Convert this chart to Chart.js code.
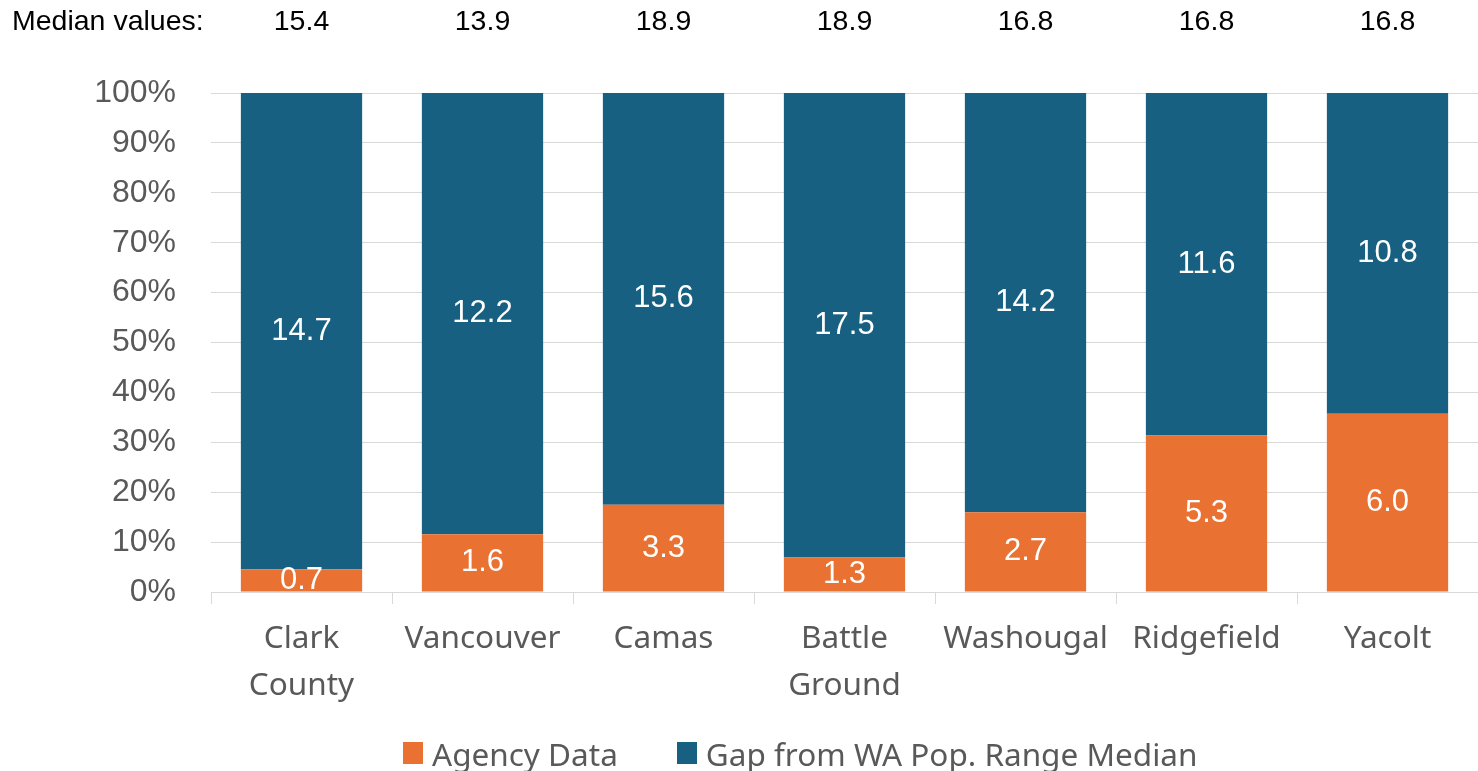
<!DOCTYPE html>
<html>
<head>
<meta charset="utf-8">
<script src="https://cdn.jsdelivr.net/npm/chart.js@4"></script>
<style>
  html, body { margin: 0; padding: 0; background: #fff; }
  #wrap { width: 1478px; height: 771px; position: relative; }
  #legend {
    position: absolute; left: 403px; top: 731px; height: 44px;
    display: flex; align-items: center;
    font: 31.5px "Noto Sans", sans-serif; color: #595959; white-space: nowrap;
  }
  #legend .item { display: flex; align-items: center; margin-right: 59px; }
  #legend .box  { width: 20px; height: 22px; margin-right: 9px; }
</style>
</head>
<body>
<div id="wrap">
  <canvas id="chart"></canvas>
  <div id="legend"></div>
</div>
<script>
// ── DATA ─────────────────────────────────────────────
var categories  = [['Clark', 'County'], 'Vancouver', 'Camas', ['Battle', 'Ground'], 'Washougal', 'Ridgefield', 'Yacolt'];
var agencyData  = [0.7, 1.6, 3.3, 1.3, 2.7, 5.3, 6.0];
var gapData     = [14.7, 12.2, 15.6, 17.5, 14.2, 11.6, 10.8];
var medianVals  = ['15.4', '13.9', '18.9', '18.9', '16.8', '16.8', '16.8'];
var seriesNames = ['Agency Data', 'Gap from WA Pop. Range Median'];

var ORANGE = '#E97132';
var BLUE   = '#186082';
var GRAY   = '#595959';
var FONT   = '"Noto Sans", sans-serif';
var ARIAL  = '"Liberation Sans", Arial, sans-serif';

// share of each bar (100% stacked)
function toPct(part, other) {
  return part.map(function (v, i) { return v / (v + other[i]) * 100; });
}

// ── LABELS INSIDE BARS + MEDIAN ROW ──────────────────
var labelsPlugin = {
  id: 'labelsPlugin',
  afterDatasetsDraw: function (chart) {
    var ctx  = chart.ctx;
    var area = chart.chartArea;
    ctx.save();
    ctx.beginPath();
    ctx.rect(area.left, area.top, area.right - area.left, area.bottom - area.top);
    ctx.clip();
    ctx.fillStyle    = '#fff';
    ctx.font         = '31px ' + ARIAL;
    ctx.textAlign    = 'center';
    ctx.textBaseline = 'middle';
    chart.data.datasets.forEach(function (ds, di) {
      chart.getDatasetMeta(di).data.forEach(function (bar, i) {
        var mid = (bar.y + bar.base) / 2;
        ctx.fillText(ds.raw[i].toFixed(1), bar.x, mid);
      });
    });
    ctx.restore();

    // median values row
    var x = chart.scales.x;
    ctx.save();
    ctx.fillStyle    = '#000';
    ctx.font         = '28.5px ' + ARIAL;
    ctx.textBaseline = 'middle';
    ctx.textAlign    = 'left';
    ctx.fillText('Median values:', 12, 22);
    ctx.textAlign = 'center';
    medianVals.forEach(function (v, i) {
      ctx.fillText(v, x.getPixelForValue(i), 22);
    });
    ctx.restore();
  }
};

// ── HTML LEGEND ──────────────────────────────────────
var htmlLegend = {
  id: 'htmlLegend',
  afterUpdate: function (chart) {
    var box = document.getElementById('legend');
    box.innerHTML = chart.data.datasets.map(function (ds) {
      return '<div class="item"><span class="box" style="background:' + ds.backgroundColor + '"></span>' +
             '<span>' + ds.label + '</span></div>';
    }).join('');
  }
};

new Chart(document.getElementById('chart'), {
  type: 'bar',
  data: {
    labels: categories,
    datasets: [
      {
        label: seriesNames[0],
        data: toPct(agencyData, gapData),
        raw: agencyData,
        backgroundColor: ORANGE,
        categoryPercentage: 1,
        barPercentage: 0.67
      },
      {
        label: seriesNames[1],
        data: toPct(gapData, agencyData),
        raw: gapData,
        backgroundColor: BLUE,
        categoryPercentage: 1,
        barPercentage: 0.67
      }
    ]
  },
  options: {
    responsive: true,
    maintainAspectRatio: false,
    animation: false,
    layout: { padding: { top: 93, right: 0, left: 0, bottom: 60 } },
    plugins: {
      legend: { display: false },
      tooltip: { enabled: false }
    },
    scales: {
      x: {
        stacked: true,
        grid: {
          drawOnChartArea: false,
          drawTicks: true,
          tickLength: 12,
          color: '#d9d9d9',
          offset: true
        },
        border: { display: true, color: '#d9d9d9' },
        ticks: {
          color: GRAY,
          font: { family: FONT, size: 31.5, lineHeight: 1.5 },
          padding: 11,
          maxRotation: 0,
          autoSkip: false
        },
        afterFit: function (scale) { scale.height = 119; }
      },
      y: {
        stacked: true,
        min: 0,
        max: 100,
        grid: { color: '#d9d9d9', drawTicks: false },
        border: { display: false },
        ticks: {
          stepSize: 10,
          color: GRAY,
          font: { family: ARIAL, size: 32 },
          padding: 35,
          callback: function (v) { return v + '%'; }
        },
        afterFit: function (scale) { scale.width = 211; }
      }
    }
  },
  plugins: [labelsPlugin, htmlLegend]
});
</script>
</body>
</html>
